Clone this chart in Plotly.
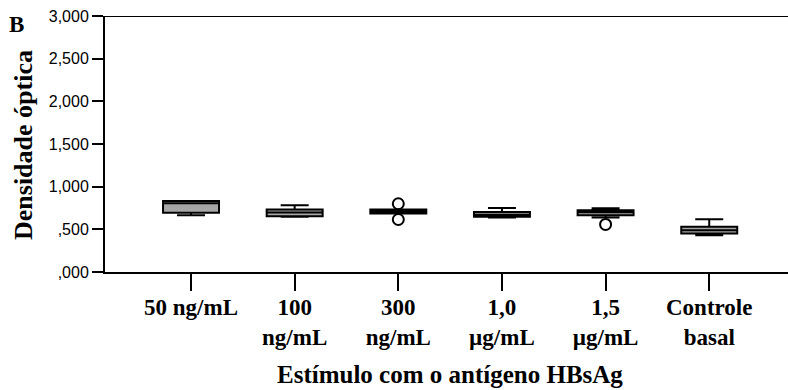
import plotly.graph_objects as go

categories = ["50 ng/mL", "100<br>ng/mL", "300<br>ng/mL", "1,0<br>µg/mL", "1,5<br>µg/mL", "Controle<br>basal"]
q1 = [0.693, 0.654, 0.686, 0.646, 0.666, 0.452]
median = [0.806, 0.697, 0.710, 0.670, 0.700, 0.490]
q3 = [0.833, 0.732, 0.732, 0.704, 0.724, 0.529]
lowerfence = [0.666, 0.646, 0.686, 0.639, 0.639, 0.432]
upperfence = [0.833, 0.783, 0.732, 0.751, 0.748, 0.619]
outlier_x = ["300<br>ng/mL", "300<br>ng/mL", "1,5<br>µg/mL"]
outlier_y = [0.800, 0.615, 0.557]

y_tickvals = [0, 0.5, 1.0, 1.5, 2.0, 2.5, 3.0]
y_ticktext = [",000", ",500", "1,000", "1,500", "2,000", "2,500", "3,000"]

serif = "Liberation Serif, Times New Roman, serif"
sans = "Liberation Sans, Arial, sans-serif"

fig = go.Figure()
fig.add_trace(go.Box(
    x=categories, q1=q1, median=median, q3=q3,
    lowerfence=lowerfence, upperfence=upperfence,
    fillcolor="#a6a6a6", line=dict(color="black", width=2),
    width=0.54, whiskerwidth=0.5, boxpoints=False, showlegend=False,
))
fig.add_trace(go.Scatter(
    x=outlier_x, y=outlier_y, mode="markers",
    marker=dict(symbol="circle-open", size=11, color="black", line=dict(width=2)),
    showlegend=False,
))

fig.add_shape(type="line", xref="paper", yref="y", x0=0, x1=1, y0=3.0, y1=3.0,
              line=dict(color="black", width=2))

fig.update_layout(
    width=788, height=390,
    margin=dict(l=105, r=0, t=16, b=118),
    plot_bgcolor="white", paper_bgcolor="white",
    xaxis=dict(
        type="category", categoryorder="array", categoryarray=categories,
        range=[-0.83, 5.76], showgrid=False, zeroline=False,
        showline=True, linecolor="black", linewidth=2,
        ticks="outside", ticklen=17, tickwidth=2, tickcolor="black",
        ticklabelstandoff=-4,
        tickfont=dict(family=serif, size=23, color="black", weight="bold"),
    ),
    yaxis=dict(
        range=[0, 3.0], showgrid=False, zeroline=False,
        showline=True, linecolor="black", linewidth=2,
        ticks="outside", ticklen=11, tickwidth=1.5, tickcolor="black",
        tickvals=y_tickvals, ticktext=y_ticktext,
        tickfont=dict(family=sans, size=16, color="black"),
    ),
    annotations=[
        dict(text="<b>Densidade óptica</b>", xref="paper", yref="paper",
             x=(23 - 105) / 683, y=(272 - 145) / 256, textangle=-90, showarrow=False,
             xanchor="center", yanchor="middle",
             font=dict(family=serif, size=26, color="black")),
        dict(text="<b>Estímulo com o antígeno HBsAg</b>", xref="paper", yref="paper",
             x=(450 - 105) / 683, y=(272 - 374) / 256, showarrow=False,
             xanchor="center", yanchor="middle",
             font=dict(family=serif, size=25, color="black")),
        dict(text="<b>B</b>", xref="paper", yref="paper",
             x=(16.5 - 105) / 683, y=(272 - 24) / 256, showarrow=False,
             xanchor="center", yanchor="middle",
             font=dict(family=serif, size=23, color="black")),
    ],
)

fig.write_html("out.html")
